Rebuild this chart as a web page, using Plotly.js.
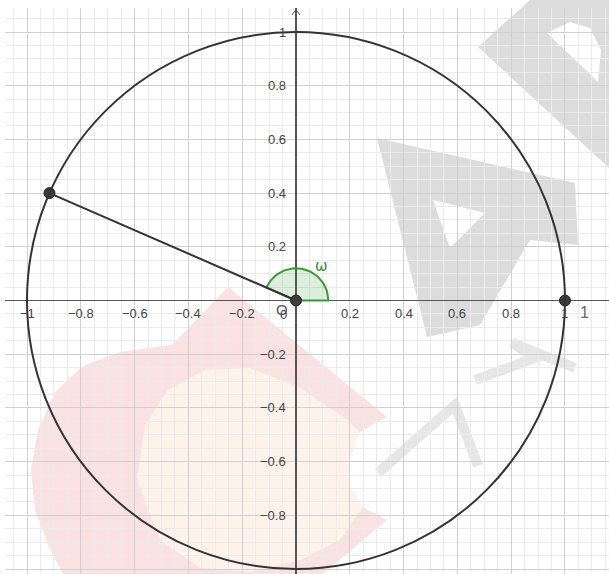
<!DOCTYPE html>
<html><head><meta charset="utf-8">
<script src="https://cdn.plot.ly/plotly-3.0.1.min.js"></script>
<style>html,body{margin:0;padding:0;background:#fff}#chart{width:609px;height:574px}</style>
</head><body><div id="chart"></div>
<script>
// ---------- data ----------
const circleRadius = 1;
const pointNames = ['P', 'O', 'A'];
const pointX = [-0.9165, 0, 1];
const pointY = [0.4, 0, 0];
const angleLabel = 'ω';
const angleDeg = 156.4;
const angleRadius = 0.12;
const xTickVals = [-1, -0.8, -0.6, -0.4, -0.2, 0.2, 0.4, 0.6, 0.8, 1];
const xTickText = ['−1', '−0.8', '−0.6', '−0.4', '−0.2', '0.2', '0.4', '0.6', '0.8', '1'];
const yTickVals = [-0.8, -0.6, -0.4, -0.2, 0.2, 0.4, 0.6, 0.8, 1];
const yTickText = ['−0.8', '−0.6', '−0.4', '−0.2', '0.2', '0.4', '0.6', '0.8', '1'];
const xRange = [-1.0818, 1.1636];
const yRange = [-1.0186, 1.0894];

// ---------- angle sector (geometry from angle + radius) ----------
const arcX = [], arcY = [];
for (let i = 0; i <= 60; i++) {
  const t = angleDeg * Math.PI / 180 * i / 60;
  arcX.push(angleRadius * Math.cos(t));
  arcY.push(angleRadius * Math.sin(t));
}
const secX = [0].concat(arcX, [0]);
const secY = [0].concat(arcY, [0]);

const traces = [
  {x: secX, y: secY, mode: 'lines', fill: 'toself', fillcolor: 'rgba(30,140,30,0.15)',
   line: {color: '#3a9a3a', width: 2}, hoverinfo: 'skip'},
  {x: [pointX[0], pointX[1]], y: [pointY[0], pointY[1]], mode: 'lines',
   line: {color: '#333333', width: 2}, hoverinfo: 'skip'},
  {x: [-0.015, 0, 0.015], y: [yRange[1] - 0.026, yRange[1] - 0.006, yRange[1] - 0.026], mode: 'lines',
   line: {color: '#555555', width: 1}, hoverinfo: 'skip'},
  {x: pointX, y: pointY, text: pointNames, mode: 'markers',
   marker: {size: 11, color: '#3c3c3c', line: {color: '#222', width: 1}}, hoverinfo: 'text'}
];

// ---------- annotations (tick labels) ----------
const tickFont = {family: 'Liberation Sans, Arial, sans-serif', size: 13, color: '#444'};
const annotations = [];
xTickVals.forEach((v, i) => annotations.push({
  x: v, y: 0, xref: 'x', yref: 'y', text: xTickText[i], showarrow: false,
  xanchor: 'center', yanchor: 'middle', yshift: -13, font: tickFont
}));
yTickVals.forEach((v, i) => annotations.push({
  x: 0, y: v, xref: 'x', yref: 'y', text: yTickText[i], showarrow: false,
  xanchor: 'right', yanchor: 'middle', xshift: -8, font: tickFont
}));
annotations.push({x: 0, y: 0, xref: 'x', yref: 'y', text: '0', showarrow: false,
  xanchor: 'center', yanchor: 'middle', xshift: -13, yshift: -14, font: tickFont});
annotations.push({x: pointX[1], y: pointY[1], xref: 'x', yref: 'y', text: pointNames[1], showarrow: false,
  xanchor: 'center', yanchor: 'middle', xshift: -14, yshift: -9,
  font: {family: 'Liberation Sans, Arial, sans-serif', size: 15, color: '#555'}});
annotations.push({x: 1, y: 0, xref: 'x', yref: 'y', text: '1', showarrow: false,
  xanchor: 'center', yanchor: 'middle', xshift: 20, yshift: -12,
  font: {family: 'Liberation Sans, Arial, sans-serif', size: 16, color: '#666'}});
annotations.push({x: angleRadius * 0.8, y: angleRadius * 1.07, xref: 'x', yref: 'y', text: angleLabel, showarrow: false,
  xanchor: 'center', yanchor: 'middle',
  font: {family: 'DejaVu Sans, sans-serif', size: 15, color: '#2f8f2f'}});

// ---------- watermark decoration (pixel -> paper) ----------
const ML = 5, MT = 8, PW = 604, PH = 566;
function pp(p) { return ((p[0] - ML) / PW).toFixed(4) + ',' + ((MT + PH - p[1]) / PH).toFixed(4); }
function path(pts) { return 'M' + pts.map(pp).join(' L') + ' Z'; }
function open(pts) { return 'M' + pts.map(pp).join(' L'); }

const pinkPts = [[228,287],[172,345],[120,352],[83,366],[55,392],[38,430],[31,470],[35,510],[48,545],[63,574],
  [323,574],[387,520],[363,507],[350,487],[350,457],[360,432],[387,417]];
const creamPts = [[137,480],[145,425],[168,390],[205,370],[250,368],[300,388],[345,418],[360,432],[350,457],
  [350,487],[363,507],[340,540],[300,560],[250,572],[200,568],[160,540]];
const grayA = [[377,138],[575,183],[578,245],[530,240],[480,325],[427,337]];
const grayAHole = [[433,200],[485,213],[450,248]];
const grayTop = [[478,47],[530,0],[609,0],[609,168]];
const grayTopHole = [[547,33],[570,22],[590,28],[601,50],[598,82]];
const w1 = [[378,473],[455,405],[478,466]];
const w2 = [[475,380],[535,358],[512,343],[575,368]];

const shapes = [
  {type: 'path', xref: 'paper', yref: 'paper', path: path(pinkPts), fillcolor: '#f9e2e1', line: {width: 0}, layer: 'below'},
  {type: 'path', xref: 'paper', yref: 'paper', path: path(creamPts), fillcolor: '#fdf3ea', line: {width: 0}, layer: 'below'},
  {type: 'path', xref: 'paper', yref: 'paper', path: path(grayA) + ' ' + path(grayAHole), fillrule: 'evenodd',
   fillcolor: '#dcdcdc', line: {width: 0}, layer: 'below'},
  {type: 'path', xref: 'paper', yref: 'paper', path: path(grayTop) + ' ' + path(grayTopHole), fillrule: 'evenodd',
   fillcolor: '#dcdcdc', line: {width: 0}, layer: 'below'},
  {type: 'path', xref: 'paper', yref: 'paper', path: open(w1), line: {width: 10, color: '#e6e6e6'}, layer: 'below'},
  {type: 'path', xref: 'paper', yref: 'paper', path: open(w2), line: {width: 10, color: '#e6e6e6'}, layer: 'below'},
  {type: 'circle', xref: 'x', yref: 'y', x0: -circleRadius, x1: circleRadius, y0: -circleRadius, y1: circleRadius,
   line: {color: '#333333', width: 2}, fillcolor: 'rgba(0,0,0,0)', layer: 'above'}
];

const axisCommon = {
  showticklabels: false, ticks: '', dtick: 0.2, tick0: 0,
  showgrid: true, gridcolor: '#d0d0d0', gridwidth: 1,
  minor: {dtick: 0.05, showgrid: true, gridcolor: '#ebebeb', gridwidth: 1},
  zeroline: true, zerolinecolor: '#555555', zerolinewidth: 1.2,
  showline: false, fixedrange: true
};

const layout = {
  width: 609, height: 574,
  margin: {l: ML, r: 0, t: MT, b: 0, pad: 0},
  paper_bgcolor: '#ffffff', plot_bgcolor: '#ffffff',
  showlegend: false,
  xaxis: Object.assign({}, axisCommon, {range: xRange}),
  yaxis: Object.assign({}, axisCommon, {range: yRange}),
  shapes: shapes,
  annotations: annotations
};

Plotly.newPlot('chart', traces, layout, {displayModeBar: false, staticPlot: true});
</script>
</body></html>
